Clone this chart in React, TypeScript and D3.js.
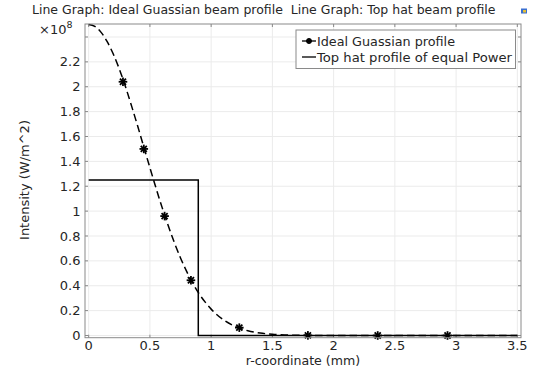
import React from "react";
import * as d3 from "d3";

const gaussR = [0, 0.05, 0.1, 0.15, 0.2, 0.25, 0.3, 0.35, 0.4, 0.45, 0.5, 0.55, 0.6, 0.65, 0.7, 0.75, 0.8, 0.85, 0.9, 0.95, 1.0, 1.1, 1.2, 1.3, 1.4, 1.5, 1.6, 1.8, 2.0, 2.5, 3.0, 3.5];
const gaussI = [2.5, 2.485, 2.439, 2.364, 2.265, 2.143, 2.002, 1.846, 1.684, 1.516, 1.349, 1.185, 1.028, 0.882, 0.746, 0.623, 0.515, 0.42, 0.338, 0.27, 0.212, 0.126, 0.071, 0.038, 0.02, 0.0096, 0.0045, 0.001, 0, 0, 0, 0];
const markerR = [0.28, 0.45, 0.62, 0.835, 1.23, 1.79, 2.36, 2.93];
const markerI = [2.04, 1.5, 0.96, 0.444, 0.063, 0.001, 0, 0];
const hatR = [0, 0.895, 0.895, 3.5];
const hatI = [1.25, 1.25, 0, 0];
const xTicks = [0, 0.5, 1, 1.5, 2, 2.5, 3, 3.5];
const yTicks = [0, 0.2, 0.4, 0.6, 0.8, 1, 1.2, 1.4, 1.6, 1.8, 2, 2.2, 2.4];
const yLabelTicks = [0, 0.2, 0.4, 0.6, 0.8, 1, 1.2, 1.4, 1.6, 1.8, 2, 2.2];
const legendLabels = ["Ideal Guassian profile", "Top hat profile of equal Power"];
const title = "Line Graph: Ideal Guassian beam profile\u00a0 Line Graph: Top hat beam profile";

const W = 538, H = 373;
const L = 85, R = 521, T = 24, B = 337.7;
const FONT = "DejaVu Sans, sans-serif";
const FS = 13;
const TXT = "#262626";

function Star({ x, y, r = 4.3 }: { x: number; y: number; r?: number }) {
  const arms = [0, 45, 90, 135];
  return (
    <g transform={`translate(${x},${y})`}>
      {arms.map((a) => {
        const rad = (a * Math.PI) / 180;
        const dx = Math.cos(rad) * r, dy = Math.sin(rad) * r;
        return <line key={a} x1={-dx} y1={-dy} x2={dx} y2={dy} stroke="#000" strokeWidth={1.8} />;
      })}
    </g>
  );
}

export default function App() {
  const x = d3.scaleLinear().domain([-0.03, 3.53]).range([L, R]);
  const y = d3.scaleLinear().domain([-0.0178, 2.5045]).range([B, T]);

  const gaussLine = d3
    .line<number>()
    .x((_, i) => x(gaussR[i]))
    .y((d) => y(d))
    .curve(d3.curveMonotoneX)(gaussI) as string;
  const hatLine = d3
    .line<number>()
    .x((_, i) => x(hatR[i]))
    .y((d) => y(d))(hatI) as string;

  const tickLen = 3;
  const lx = 302, lw = 14;

  return (
    <svg
      width={W}
      height={H}
      style={{ position: "absolute", left: 0, top: 0, background: "#fff" }}
      fontFamily={FONT}
    >
      <rect x={0} y={0} width={W} height={H} fill="#fff" />
      <text x={32} y={13.5} fontSize={FS} fill={TXT} textLength={463.5} lengthAdjust="spacingAndGlyphs">{title}</text>
      <rect x={521} y={8.5} width={6} height={5} fill="#3a6fd0" />
      <rect x={523} y={10} width={3} height={2.5} fill="#e8c030" />

      {/* grid */}
      {xTicks.map((t) => (
        <line key={"gx" + t} x1={x(t)} x2={x(t)} y1={T} y2={B} stroke="#ebebeb" strokeWidth={1} />
      ))}
      {yTicks.map((t) => (
        <line key={"gy" + t} x1={L} x2={R} y1={y(t)} y2={y(t)} stroke="#ebebeb" strokeWidth={1} />
      ))}

      {/* ticks */}
      {xTicks.map((t) => (
        <g key={"tx" + t}>
          <line x1={x(t)} x2={x(t)} y1={B} y2={B - tickLen} stroke="#888" />
          <line x1={x(t)} x2={x(t)} y1={T} y2={T + tickLen} stroke="#888" />
          <text x={x(t)} y={350} fontSize={FS} textAnchor="middle" fill={TXT}>{String(t)}</text>
        </g>
      ))}
      {yTicks.map((t) => (
        <g key={"ty" + t}>
          <line x1={L} x2={L + tickLen} y1={y(t)} y2={y(t)} stroke="#888" />
          <line x1={R} x2={R - tickLen} y1={y(t)} y2={y(t)} stroke="#888" />
        </g>
      ))}
      {yLabelTicks.map((t) => (
        <text key={"ly" + t} x={80.5} y={y(t) + 4.6} fontSize={FS} textAnchor="end" fill={TXT}>
          {String(Math.round(t * 10) / 10)}
        </text>
      ))}
      <text x={39} y={33.5} fontSize={FS} fill={TXT}>
        ×10<tspan dy={-5.5} fontSize={9.5}>8</tspan>
      </text>

      {/* data */}
      <path d={hatLine} fill="none" stroke="#000" strokeWidth={1.5} />
      <path d={gaussLine} fill="none" stroke="#000" strokeWidth={1.5} strokeDasharray="7.5,4" />
      {markerR.map((r, i) => (
        <Star key={"m" + i} x={x(r)} y={y(markerI[i])} />
      ))}

      {/* frame */}
      <rect x={L} y={T} width={R - L} height={B - T} fill="none" stroke="#8a8a8a" strokeWidth={1} />

      {/* legend */}
      <rect x={296} y={30} width={219.5} height={38.5} fill="#fff" stroke="#8a8a8a" strokeWidth={1} />
      <line x1={lx} x2={lx + lw} y1={41} y2={41} stroke="#000" strokeWidth={1.3} />
      <Star x={lx + lw / 2} y={41} r={3} />
      <text x={317} y={45.7} fontSize={FS} fill={TXT} textLength={138} lengthAdjust="spacingAndGlyphs">{legendLabels[0]}</text>
      <line x1={lx} x2={lx + lw} y1={57} y2={57} stroke="#000" strokeWidth={1.3} />
      <text x={317} y={61.7} fontSize={FS} fill={TXT} textLength={195} lengthAdjust="spacingAndGlyphs">{legendLabels[1]}</text>

      {/* axis titles */}
      <text x={303} y={365} fontSize={12.6} textAnchor="middle" fill={TXT}>r-coordinate (mm)</text>
      <text
        transform={`translate(29,180) rotate(-90)`}
        fontSize={FS}
        textAnchor="middle"
        fill={TXT}
      >
        Intensity (W/m^2)
      </text>
    </svg>
  );
}
